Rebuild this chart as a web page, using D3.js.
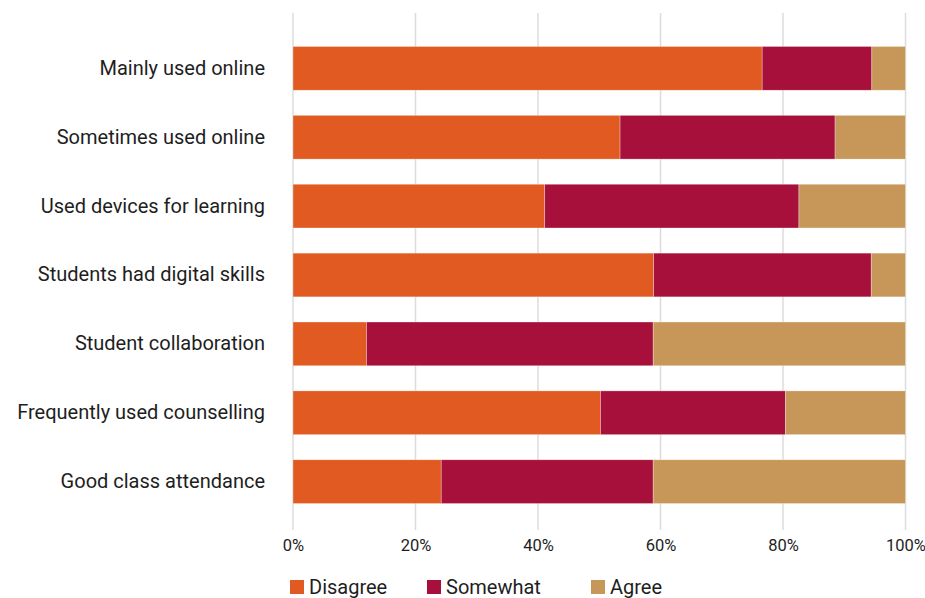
<!DOCTYPE html>
<html>
<head>
<meta charset="utf-8">
<script src="https://cdn.jsdelivr.net/npm/d3@7"></script>
<style>
  html, body { margin: 0; padding: 0; background: #fff; }
  svg { display: block; font-family: Roboto, "Noto Sans", sans-serif; }
</style>
</head>
<body>
<svg id="chart" width="925" height="598"></svg>
<script>
// Survey items, top to bottom
const categories = [
  "Mainly used online",
  "Sometimes used online",
  "Used devices for learning",
  "Students had digital skills",
  "Student collaboration",
  "Frequently used counselling",
  "Good class attendance"
];

// Response shares (%) per item
const disagree = [76.6, 53.4, 41.1, 58.9, 12.0, 50.2, 24.2];
const somewhat = [17.9, 35.1, 41.5, 35.5, 46.8, 30.2, 34.6];
const agree    = [5.5, 11.5, 17.4, 5.6, 41.2, 19.6, 41.2];

const seriesNames = ["Disagree", "Somewhat", "Agree"];
const tickValues = [0, 20, 40, 60, 80, 100];

const colors = { Disagree: "#E05A22", Somewhat: "#A6103A", Agree: "#C69758" };

const rows = categories.map((c, i) => ({
  category: c, Disagree: disagree[i], Somewhat: somewhat[i], Agree: agree[i]
}));

const svg = d3.select("#chart");

const x = d3.scaleLinear().domain([0, 100]).range([293, 905.5]);
const y = d3.scaleBand()
  .domain(categories)
  .range([16.5, 533.5])
  .paddingInner(0.365)
  .paddingOuter(0.435);

// Vertical gridlines
svg.append("g")
  .selectAll("line")
  .data(tickValues)
  .join("line")
  .attr("x1", d => x(d)).attr("x2", d => x(d))
  .attr("y1", 13).attr("y2", 530)
  .attr("stroke", "#dcdcdc")
  .attr("stroke-width", 1.5);

// Stacked bars
const stacked = d3.stack().keys(seriesNames)(rows);

svg.append("g")
  .selectAll("g")
  .data(stacked)
  .join("g")
  .attr("fill", s => colors[s.key])
  .selectAll("rect")
  .data(s => s)
  .join("rect")
  .attr("x", d => x(d[0]))
  .attr("width", d => x(d[1]) - x(d[0]))
  .attr("y", d => y(d.data.category))
  .attr("height", y.bandwidth())
  .attr("stroke", "#ffffff")
  .attr("stroke-opacity", 0.5)
  .attr("stroke-width", 0.6);

// Category labels
const yAxis = d3.axisLeft(y).tickSize(0).tickPadding(28);
const gy = svg.append("g")
  .attr("transform", `translate(${x(0)},0)`)
  .call(yAxis);
gy.select(".domain").remove();
gy.selectAll("text")
  .attr("font-size", 20)
  .attr("fill", "#1e1e1e")
  .attr("font-family", "Roboto, 'Noto Sans', sans-serif");

// Percentage axis
const xAxis = d3.axisBottom(x)
  .tickValues(tickValues)
  .tickFormat(d => d + "%")
  .tickSize(0)
  .tickPadding(8);
const gx = svg.append("g")
  .attr("transform", "translate(0,531)")
  .call(xAxis);
gx.select(".domain").remove();
gx.selectAll("text")
  .attr("font-size", 16.5)
  .attr("fill", "#1e1e1e")
  .attr("font-family", "Roboto, 'Noto Sans', sans-serif");

// Legend
const legendX = [290, 427, 591];
const legend = svg.append("g")
  .selectAll("g")
  .data(seriesNames)
  .join("g")
  .attr("transform", (d, i) => `translate(${legendX[i]},580)`);
legend.append("rect")
  .attr("width", 14).attr("height", 14)
  .attr("fill", d => colors[d]);
legend.append("text")
  .attr("x", 19).attr("y", 7)
  .attr("dy", "0.36em")
  .attr("font-size", 20)
  .attr("fill", "#1e1e1e")
  .text(d => d);
</script>
</body>
</html>
